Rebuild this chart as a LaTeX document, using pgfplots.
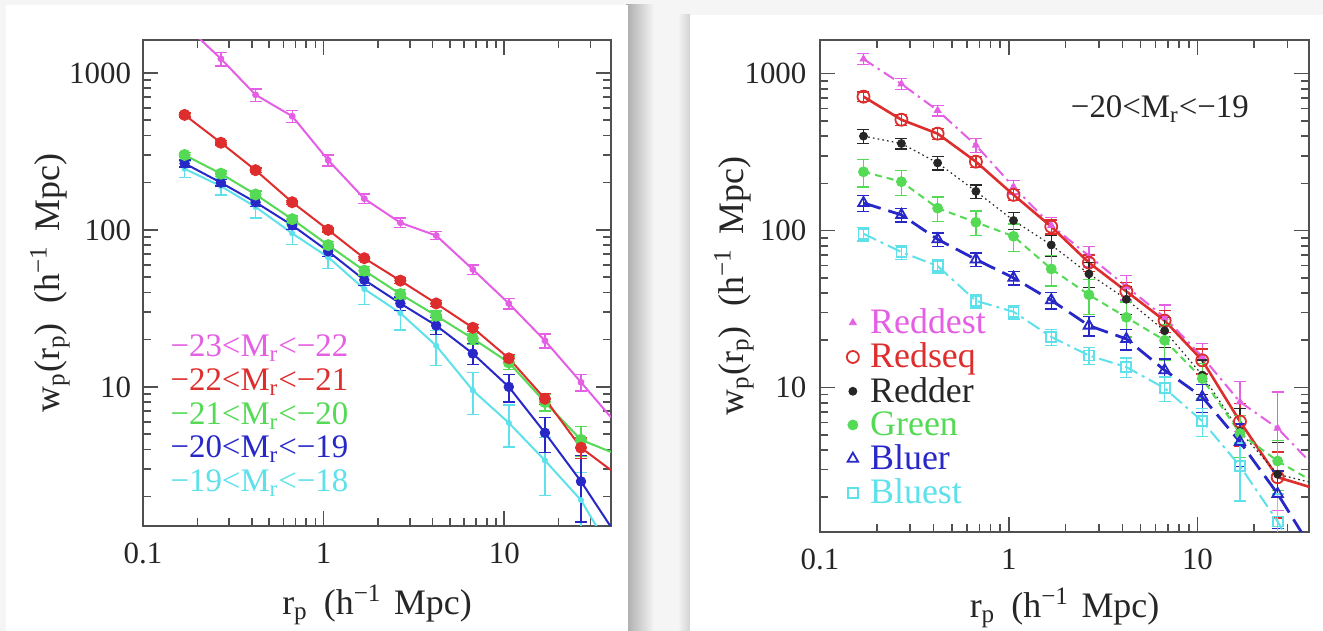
\documentclass[border=0pt]{standalone}
\usepackage{pgfplots}
\pgfplotsset{compat=1.18}
\usepackage{pgfplotstable}
\usepackage{fontspec}
\setmainfont{Liberation Serif}
\definecolor{cMag}{RGB}{228,95,228}
\definecolor{cRed}{RGB}{222,45,45}
\definecolor{cGrn}{RGB}{85,218,85}
\definecolor{cBlu}{RGB}{40,40,200}
\definecolor{cCyn}{RGB}{95,225,235}
\definecolor{frm}{RGB}{80,80,80}

% ---------- left panel ----------
\pgfplotstableread{
x y e
0.17 2030 0.1
0.27 1230 0.1
0.42 725 0.09
0.67 530 0.09
1.06 278 0.08
1.68 158 0.07
2.66 111 0.07
4.2 92 0.06
6.7 56 0.07
10.6 34 0.08
16.8 19.7 0.1
26.6 10.7 0.12
39 6.4 0
}\LMag
\pgfplotstableread{
x y e
0.17 540 0.03
0.27 359 0.03
0.42 240 0.03
0.67 150 0.03
1.06 100 0.03
1.68 66 0.03
2.66 47.5 0.04
4.2 34 0.04
6.7 23.8 0.05
10.6 15.2 0.06
16.8 8.4 0.08
26.6 4.1 0.15
39 2.95 0
}\LRed
\pgfplotstableread{
x y e
0.17 300 0.04
0.27 228 0.04
0.42 168 0.05
0.67 117 0.05
1.06 80 0.05
1.68 55 0.06
2.66 39 0.07
4.2 28.4 0.07
6.7 20.3 0.08
10.6 14.3 0.1
16.8 8 0.12
26.6 4.6 0.22
39 3.85 0
}\LGrn
\pgfplotstableread{
x y e
0.17 265 0.05
0.27 200 0.05
0.42 150 0.06
0.67 107 0.06
1.06 73 0.07
1.68 48 0.08
2.66 34 0.1
4.2 24.6 0.12
6.7 16.3 0.15
10.6 10 0.2
16.8 5.1 0.25
26.6 2.5 0.45
39 1.28 0
}\LBlu
\pgfplotstableread{
x y e
0.17 245 0.12
0.27 190 0.12
0.42 140 0.15
0.67 95 0.15
1.06 67 0.15
1.68 42 0.2
2.66 29.5 0.22
4.2 18.3 0.25
6.7 9.5 0.3
10.6 5.9 0.3
16.8 3.4 0.4
26.6 1.9 0.5
39 0.9 0
}\LCyn

% ---------- right panel ----------
\pgfplotstableread{
x y e
0.17 1240 0.08
0.27 860 0.08
0.42 583 0.08
0.67 350 0.1
1.06 190 0.1
1.68 108 0.12
2.66 69 0.15
4.2 44 0.18
6.7 28 0.2
10.6 15.7 0.22
16.8 8.1 0.35
26.6 5.5 0.7
39 3.4 0
}\RMag
\pgfplotstableread{
x y e
0.17 714 0.07
0.27 509 0.08
0.42 415 0.08
0.67 275 0.08
1.06 169 0.08
1.68 106 0.1
2.66 62.5 0.12
4.2 41 0.14
6.7 26.7 0.16
10.6 14.9 0.18
16.8 6.07 0.3
26.6 2.68 0.45
39 2.33 0
}\RRed
\pgfplotstableread{
x y e
0.17 400 0.1
0.27 359 0.08
0.42 270 0.1
0.67 178 0.1
1.06 116 0.12
1.68 81 0.15
2.66 53 0.18
4.2 36.5 0.2
6.7 23 0.22
10.6 12 0.25
16.8 5.25 0.4
26.6 2.8 0.6
39 2.5 0
}\RBlk
\pgfplotstableread{
x y e
0.17 237 0.2
0.27 205 0.18
0.42 139 0.18
0.67 113 0.18
1.06 92 0.2
1.68 57 0.22
2.66 39 0.25
4.2 28 0.25
6.7 20 0.25
10.6 11.4 0.25
16.8 5.1 0.3
26.6 3.4 0.35
39 2.6 0
}\RGrn
\pgfplotstableread{
x y e
0.17 150 0.12
0.27 126 0.1
0.42 88 0.1
0.67 65.5 0.1
1.06 50 0.1
1.68 36 0.12
2.66 24.8 0.14
4.2 20.4 0.15
6.7 12.9 0.18
10.6 8.7 0.2
16.8 4.5 0.3
26.6 2.1 0.4
39 1.0 0
}\RBlu
\pgfplotstableread{
x y e
0.17 95.5 0.1
0.27 73 0.1
0.42 59.5 0.1
0.67 35.7 0.1
1.06 30.4 0.1
1.68 21 0.12
2.66 16 0.12
4.2 13.5 0.14
6.7 9.9 0.18
10.6 6.1 0.2
16.8 3.16 0.4
26.6 1.4 0.5
39 0.6 0
}\RCyn

\pgfplotsset{
  wppts/.style={only marks,
    error bars/y dir=both, error bars/y explicit relative,
    error bars/error bar style={line width=0.7bp, solid},
    error bars/error mark options={rotate=90, line width=0.7bp, mark size=3bp, solid}},
}
\tikzset{legtxt/.style={anchor=west, font=\fontsize{16.5}{16.5}\selectfont, inner sep=0pt}}
\newcommand{\xlab}{r\textsubscript{p}\hspace{0.45em}(h\textsuperscript{−1}\hspace{0.35em}Mpc)}
\newcommand{\ylab}{w\textsubscript{p}(r\textsubscript{p})\hspace{0.55em}(h\textsuperscript{−1}\hspace{0.4em}Mpc)}

\begin{document}
\begin{tikzpicture}
\useasboundingbox (0,0) rectangle (661.5bp,315.5bp);
\fill[gray!8] (0,0) rectangle (661.5bp,315.5bp);
\shade[left color=gray!65, right color=gray!8] (313bp,0) rectangle (327bp,313bp);
\fill[white] (3bp,0) rectangle (314bp,313bp);
\shade[left color=gray!8, right color=gray!35] (339bp,0) rectangle (345bp,308bp);
\fill[white] (345bp,0) rectangle (661.5bp,308bp);

% ================= LEFT =================
\begin{axis}[
  xmode=log, ymode=log, scale only axis,
  at={(71.5bp,52.5bp)}, anchor=south west,
  width=234bp, height=243bp,
  xmin=0.1, xmax=39, ymin=1.3, ymax=1620,
  xtick={0.1,1,10}, xticklabels={0.1,1,10},
  ytick={10,100,1000}, yticklabels={10,100,1000},
  minor xtick={0.2,0.3,0.4,0.5,0.6,0.7,0.8,0.9,2,3,4,5,6,7,8,9,20,30},
  minor ytick={2,3,4,5,6,7,8,9,20,30,40,50,60,70,80,90,200,300,400,500,600,700,800,900},
  major tick length=7.5bp, minor tick length=4bp,
  axis line style={draw=frm, line width=1.2bp},
  tick style={draw=frm, line width=0.8bp},
  tick label style={font=\fontsize{15.5}{15.5}\selectfont, text=black!85},
  xticklabel style={yshift=-4.8bp},
  yticklabel style={xshift=-2.5bp},
  xlabel={\xlab}, ylabel={\ylab},
  xlabel style={font=\fontsize{18}{18}\selectfont, text=black!85, at={(rel axis cs:0.5,0)}, anchor=center, yshift=-39.5bp},
  ylabel style={font=\fontsize{18}{18}\selectfont, text=black!85, at={(rel axis cs:-0.199,0.5)}, anchor=center},
]
\addplot[cCyn, line width=1bp] table[x=x,y=y] {\LCyn};
\addplot[cCyn, wppts, mark=*, mark size=1.3bp, skip coords between index={12}{13}] table[x=x,y=y,y error=e] {\LCyn};
\addplot[cBlu, line width=1bp] table[x=x,y=y] {\LBlu};
\addplot[cBlu, wppts, mark=*, mark size=2.4bp, skip coords between index={12}{13}] table[x=x,y=y,y error=e] {\LBlu};
\addplot[cGrn, line width=1bp] table[x=x,y=y] {\LGrn};
\addplot[cGrn, wppts, mark=*, mark size=2.8bp, skip coords between index={12}{13}] table[x=x,y=y,y error=e] {\LGrn};
\addplot[cRed, line width=1bp] table[x=x,y=y] {\LRed};
\addplot[cRed, wppts, mark=*, mark size=2.8bp, skip coords between index={12}{13}] table[x=x,y=y,y error=e] {\LRed};
\addplot[cMag, line width=1bp] table[x=x,y=y] {\LMag};
\addplot[cMag, wppts, mark=*, mark size=1.5bp, skip coords between index={12}{13}] table[x=x,y=y,y error=e] {\LMag};

\node[legtxt, text=cMag] at (rel axis cs:0.058,0.366) {−23<M\textsubscript{r}<−22};
\node[legtxt, text=cRed] at (rel axis cs:0.058,0.296) {−22<M\textsubscript{r}<−21};
\node[legtxt, text=cGrn] at (rel axis cs:0.058,0.226) {−21<M\textsubscript{r}<−20};
\node[legtxt, text=cBlu] at (rel axis cs:0.058,0.158) {−20<M\textsubscript{r}<−19};
\node[legtxt, text=cCyn] at (rel axis cs:0.058,0.088) {−19<M\textsubscript{r}<−18};
\end{axis}

% ================= RIGHT =================
\begin{axis}[
  xmode=log, ymode=log, scale only axis,
  at={(410bp,49.5bp)}, anchor=south west,
  width=244.5bp, height=246bp,
  xmin=0.1, xmax=39, ymin=1.2, ymax=1640,
  xtick={0.1,1,10}, xticklabels={0.1,1,10},
  ytick={10,100,1000}, yticklabels={10,100,1000},
  minor xtick={0.2,0.3,0.4,0.5,0.6,0.7,0.8,0.9,2,3,4,5,6,7,8,9,20,30},
  minor ytick={2,3,4,5,6,7,8,9,20,30,40,50,60,70,80,90,200,300,400,500,600,700,800,900},
  major tick length=7.5bp, minor tick length=4bp,
  axis line style={draw=frm, line width=1.2bp},
  tick style={draw=frm, line width=0.8bp},
  tick label style={font=\fontsize{15.5}{15.5}\selectfont, text=black!85},
  xticklabel style={yshift=-4.8bp},
  yticklabel style={xshift=-3.3bp},
  xlabel={\xlab}, ylabel={\ylab},
  xlabel style={font=\fontsize{18}{18}\selectfont, text=black!85, at={(rel axis cs:0.5,0)}, anchor=center, yshift=-38bp},
  ylabel style={font=\fontsize{18}{18}\selectfont, text=black!85, at={(rel axis cs:-0.176,0.5)}, anchor=center},
  legend style={draw=none, fill=none, at={(rel axis cs:0.049,0.461)}, anchor=north west,
    font=\fontsize{18}{18}\selectfont, row sep=0bp, inner sep=0pt,
    nodes={inner sep=1.6bp}},
  legend cell align=left,
  legend image code/.code={\path[draw=none] (0cm,0cm) -- (0.4cm,0cm); \draw[#1] plot[only marks] coordinates {(0.15cm,0cm)};},
]
\addplot[cMag, line width=1bp, dash pattern=on 6bp off 2.5bp on 1.2bp off 2.5bp, forget plot] table[x=x,y=y] {\RMag};
\addplot[cMag, wppts, mark=triangle*, mark size=2bp, skip coords between index={12}{13}] table[x=x,y=y,y error=e] {\RMag};
\addlegendentry{\textcolor{cMag}{Reddest}}
\addplot[cRed, line width=1.3bp, forget plot] table[x=x,y=y] {\RRed};
\addplot[cRed, wppts, mark=o, mark size=3bp, mark options={line width=0.9bp}, skip coords between index={12}{13}] table[x=x,y=y,y error=e] {\RRed};
\addlegendentry{\textcolor{cRed}{Redseq}}
\addplot[black!85, line width=0.6bp, dash pattern=on 0.8bp off 1.6bp, forget plot] table[x=x,y=y] {\RBlk};
\addplot[black!85, wppts, mark=*, mark size=2bp, skip coords between index={12}{13}] table[x=x,y=y,y error=e] {\RBlk};
\addlegendentry{\textcolor{black!85}{Redder}}
\addplot[cGrn, line width=1bp, dash pattern=on 3.5bp off 2.5bp, forget plot] table[x=x,y=y] {\RGrn};
\addplot[cGrn, wppts, mark=*, mark size=2.5bp, skip coords between index={12}{13}] table[x=x,y=y,y error=e] {\RGrn};
\addlegendentry{\textcolor{cGrn}{Green}}
\addplot[cBlu, line width=1.4bp, dash pattern=on 9bp off 4bp, forget plot] table[x=x,y=y] {\RBlu};
\addplot[cBlu, wppts, mark=triangle, mark size=3bp, mark options={line width=0.9bp}, skip coords between index={12}{13}] table[x=x,y=y,y error=e] {\RBlu};
\addlegendentry{\textcolor{cBlu}{Bluer}}
\addplot[cCyn, line width=1bp, dash pattern=on 7bp off 2.5bp on 1.5bp off 2.5bp, forget plot] table[x=x,y=y] {\RCyn};
\addplot[cCyn, wppts, mark=square, mark size=2.5bp, mark options={line width=0.9bp}, skip coords between index={12}{13}] table[x=x,y=y,y error=e] {\RCyn};
\addlegendentry{\textcolor{cCyn}{Bluest}}

\node[anchor=center, font=\fontsize{16.5}{16.5}\selectfont, text=black!85, inner sep=0pt] at (rel axis cs:0.695,0.86) {−20<M\textsubscript{r}<−19};
\end{axis}
\end{tikzpicture}
\end{document}
